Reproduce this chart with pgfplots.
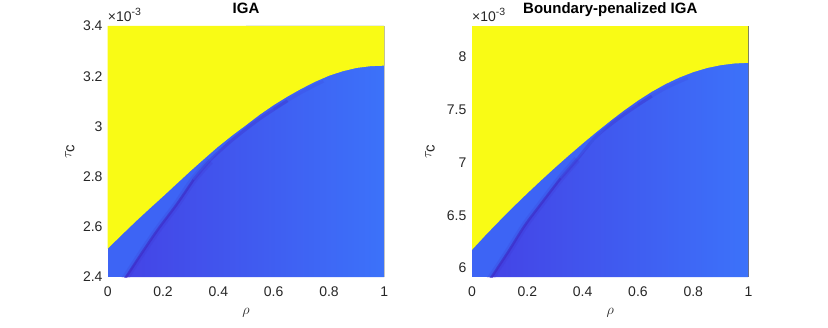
\documentclass[border=0pt]{standalone}
\usepackage{fontspec}
\setmainfont{Liberation Sans}
\usepackage{pgfplots}
\pgfplotsset{compat=1.18}
\definecolor{pyel}{RGB}{249,251,21}
\definecolor{pbase}{RGB}{61,100,245}
\definecolor{plight}{RGB}{60,114,250}
\definecolor{pmid}{RGB}{64,96,243}
\definecolor{pmed}{RGB}{68,68,230}
\definecolor{pband}{RGB}{60,40,195}
\definecolor{mtext}{RGB}{38,38,38}
\pgfplotsset{
 mystyle/.style={
  scale only axis, width=276.6pt, height=251pt,
  xmin=0, xmax=1, xtick={0,0.2,0.4,0.6,0.8,1},
  axis line style={draw=none}, major tick length=0pt,
  tick label style={font=\fontsize{14}{16}\selectfont, text=mtext},
  /pgf/number format/assume math mode=true,
  xticklabel style={inner sep=0pt, anchor=north, yshift=-10pt},
  yticklabel style={inner sep=0pt, anchor=east, xshift=-5pt},
  scaled x ticks=false,
  scaled y ticks=base 10:3,
  ytick scale label code/.code={},
  after end axis/.code={\node[anchor=base west, inner sep=0pt, text=mtext,
     font=\fontsize{14}{16}\selectfont] at (axis description cs:0,1.016)
     {×10\raisebox{0.45em}{\fontsize{10.5}{12}\selectfont -3}};},
  title style={at={(axis description cs:0.5,1.024)}, anchor=base, inner sep=0pt, font=\fontsize{15}{17}\selectfont\bfseries},
  xlabel={$\rho$}, ylabel={$\tau_{\textrm{c}}$},
  xlabel style={at={(axis description cs:0.5,-0.143)}, anchor=center, font=\fontsize{15}{17}\selectfont, text=mtext},
  ylabel style={anchor=center, font=\fontsize{15}{17}\selectfont, text=mtext},
 }}
\begin{document}
\begin{tikzpicture}
\path[use as bounding box] (0,0) rectangle (828pt,327pt);
% ---------------- Left: IGA ----------------
\begin{axis}[mystyle, at={(107.7pt,50pt)}, anchor=south west,
  title={IGA},
  ymin=2.4e-3, ymax=3.4e-3,
  ytick={2.4e-3,2.6e-3,2.8e-3,3.0e-3,3.2e-3,3.4e-3},
  ylabel style={at={(axis description cs:-0.137,0.5)}},
]
\addplot[draw=none, fill=pbase] coordinates {(0,2.4e-3) (1,2.4e-3) (1,3.4e-3) (0,3.4e-3)} -- cycle;
\addplot[draw=none, left color=pmed, middle color=pmid, right color=plight] coordinates {
 (0.063,2.4e-3) (0.12,2.49e-3) (0.18,2.587e-3) (0.25,2.69e-3) (0.31,2.787e-3)
 (0.37,2.862e-3) (0.43,2.935e-3) (0.5,3.0e-3) (0.5,3.4e-3) (1,3.4e-3) (1,2.4e-3)} -- cycle;
\addplot[pband, line width=7pt, opacity=0.15, smooth] coordinates {
 (0.055,2.38e-3) (0.12,2.49e-3) (0.18,2.587e-3) (0.25,2.69e-3) (0.31,2.787e-3) (0.37,2.862e-3)};
\addplot[pband, line width=2.5pt, opacity=0.6, smooth] coordinates {
 (0.055,2.38e-3) (0.12,2.49e-3) (0.18,2.587e-3) (0.25,2.69e-3) (0.31,2.787e-3)};
\addplot[pband, line width=3pt, opacity=0.3, smooth] coordinates {
 (0.31,2.787e-3) (0.37,2.865e-3) (0.45,2.945e-3) (0.55,3.030e-3) (0.65,3.102e-3)};
\addplot[pband, line width=3pt, opacity=0.12, smooth] coordinates {
 (0.6,3.070e-3) (0.7,3.135e-3) (0.78,3.18e-3)};
\addplot[draw=none, fill=pyel] coordinates {
 (0,2.513e-3) (0.05,2.567e-3) (0.1,2.62e-3) (0.15,2.671e-3) (0.2,2.721e-3)
 (0.25,2.772e-3) (0.3,2.823e-3) (0.35,2.872e-3) (0.4,2.92e-3) (0.45,2.964e-3)
 (0.5,3.005e-3) (0.55,3.047e-3) (0.6,3.085e-3) (0.65,3.119e-3) (0.7,3.150e-3)
 (0.75,3.178e-3) (0.8,3.202e-3) (0.85,3.220e-3) (0.9,3.233e-3) (0.95,3.240e-3)
 (1,3.242e-3) (1,3.4e-3) (0,3.4e-3)} -- cycle;
\draw[black!65, line width=0.7pt] (rel axis cs:1,0) -- (rel axis cs:1,1);
\end{axis}
% ---------------- Right: Boundary-penalized IGA ----------------
\begin{axis}[mystyle, at={(472pt,50pt)}, anchor=south west,
  title={Boundary-penalized IGA},
  ymin=5.915e-3, ymax=8.295e-3,
  ytick={6e-3,6.5e-3,7e-3,7.5e-3,8e-3},
  yticklabel style={xshift=-0.5pt},
  ylabel style={at={(axis description cs:-0.152,0.5)}},
]
\addplot[draw=none, fill=pbase] coordinates {(0,5.915e-3) (1,5.915e-3) (1,8.295e-3) (0,8.295e-3)} -- cycle;
\addplot[draw=none, left color=pmed, middle color=pmid, right color=plight] coordinates {
 (0.07,5.915e-3) (0.13,6.15e-3) (0.19,6.40e-3) (0.25,6.61e-3) (0.32,6.85e-3)
 (0.38,7.03e-3) (0.44,7.20e-3) (0.5,7.37e-3) (0.5,8.295e-3) (1,8.295e-3) (1,5.915e-3)} -- cycle;
\addplot[pband, line width=7pt, opacity=0.15, smooth] coordinates {
 (0.062,5.88e-3) (0.13,6.15e-3) (0.19,6.40e-3) (0.25,6.61e-3) (0.32,6.85e-3) (0.38,7.03e-3)};
\addplot[pband, line width=2.5pt, opacity=0.6, smooth] coordinates {
 (0.062,5.88e-3) (0.13,6.15e-3) (0.19,6.40e-3) (0.25,6.61e-3) (0.32,6.85e-3)};
\addplot[pband, line width=3pt, opacity=0.3, smooth] coordinates {
 (0.32,6.85e-3) (0.38,7.03e-3) (0.45,7.25e-3) (0.55,7.455e-3) (0.65,7.63e-3)};
\addplot[pband, line width=3pt, opacity=0.12, smooth] coordinates {
 (0.6,7.55e-3) (0.7,7.705e-3) (0.78,7.80e-3)};
\addplot[draw=none, fill=pyel] coordinates {
 (0,6.173e-3) (0.05,6.315e-3) (0.1,6.45e-3) (0.15,6.582e-3) (0.2,6.709e-3)
 (0.25,6.832e-3) (0.3,6.952e-3) (0.35,7.068e-3) (0.4,7.181e-3) (0.45,7.29e-3)
 (0.5,7.395e-3) (0.55,7.495e-3) (0.6,7.588e-3) (0.65,7.672e-3) (0.7,7.745e-3)
 (0.75,7.807e-3) (0.8,7.858e-3) (0.85,7.897e-3) (0.9,7.924e-3) (0.95,7.94e-3)
 (1,7.946e-3) (1,8.295e-3) (0,8.295e-3)} -- cycle;
\draw[black!65, line width=0.7pt] (rel axis cs:1,0) -- (rel axis cs:1,1);
\end{axis}
\end{tikzpicture}
\end{document}
